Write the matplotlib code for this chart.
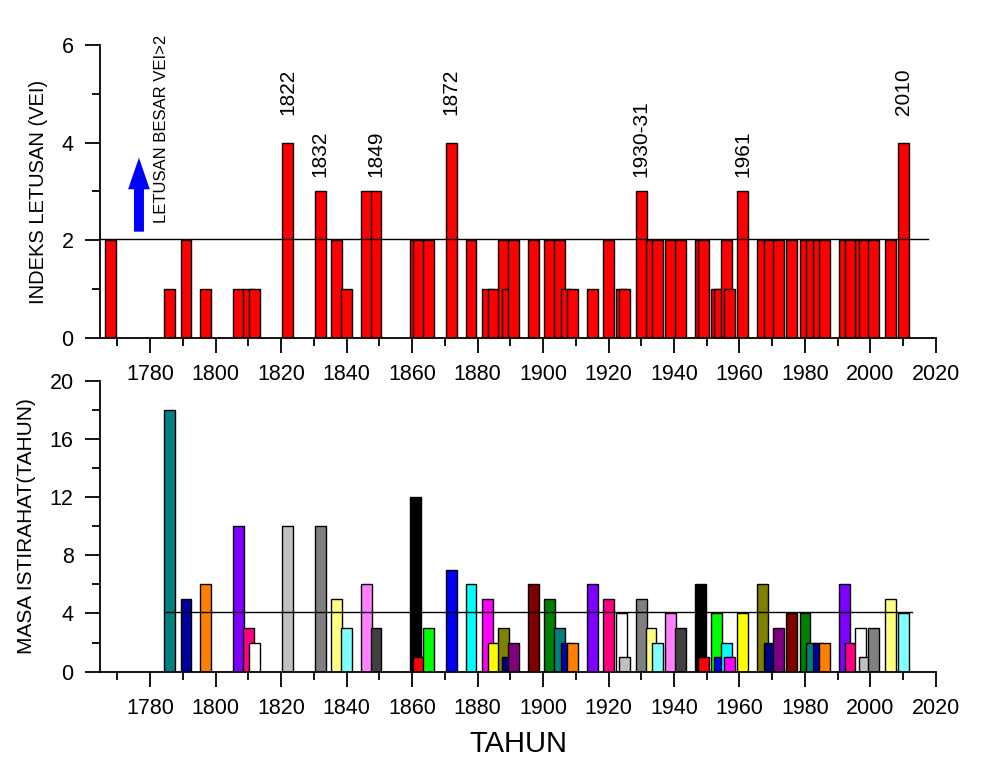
import matplotlib
matplotlib.use("Agg")
import matplotlib.pyplot as plt
from matplotlib.ticker import MultipleLocator

plt.rcParams['font.family'] = ['Liberation Sans', 'DejaVu Sans']

# eruption years and VEI
years = [1768, 1786, 1791, 1797, 1807, 1810, 1812, 1822, 1832, 1837, 1840, 1846,
         1849, 1861, 1862, 1865, 1872, 1878, 1883, 1885, 1888, 1889, 1891, 1897,
         1902, 1905, 1907, 1909, 1915, 1920, 1924, 1925, 1930, 1933, 1935, 1939,
         1942, 1948, 1949, 1953, 1954, 1956, 1957, 1961, 1967, 1969, 1972, 1976,
         1980, 1982, 1984, 1986, 1992, 1994, 1997, 1998, 2001, 2006, 2010]
vei = [2, 1, 2, 1, 1, 1, 1, 4, 3, 2, 1, 3,
       3, 2, 2, 2, 4, 2, 1, 1, 2, 1, 2, 2,
       2, 2, 1, 1, 1, 2, 1, 1, 3, 2, 2, 2,
       2, 2, 2, 1, 1, 2, 1, 3, 2, 2, 2, 2,
       2, 2, 2, 2, 2, 2, 2, 2, 2, 2, 4]

# rest period (years) for every eruption after the first one
rest_years = years[1:]
rest = [18, 5, 6, 10, 3, 2, 10, 10, 5, 3, 6, 3,
        12, 1, 3, 7, 6, 5, 2, 3, 1, 2, 6, 5,
        3, 2, 2, 6, 5, 4, 1, 5, 3, 2, 4, 3,
        6, 1, 4, 1, 2, 1, 4, 6, 2, 3, 4, 4,
        2, 2, 2, 6, 2, 3, 1, 3, 5, 4]

big_labels = ['1822', '1832', '1849', '1872', '1930-31', '1961', '2010']
big_years = [1822, 1832, 1849, 1872, 1930, 1961, 2010]
big_vei = [4, 3, 3, 4, 3, 3, 4]

vei_mean = 2.03
rest_mean = 4.1

# Origin default colour list
origin_colors = ['#000000', '#FF0000', '#00FF00', '#0000FF', '#00FFFF', '#FF00FF',
                 '#FFFF00', '#808000', '#000080', '#800080', '#800000', '#008000',
                 '#008080', '#0000A0', '#FF8000', '#8000FF', '#FF0080', '#FFFFFF',
                 '#C0C0C0', '#808080', '#FFFF80', '#80FFFF', '#FF80FF', '#404040']
rest_colors = [origin_colors[(12 + i) % 24] for i in range(len(rest))]

W = 3.3
fig = plt.figure(figsize=(9.85, 7.6), dpi=100)
ax1 = fig.add_axes([0.1015, 0.5553, 0.8487, 0.3855])
ax2 = fig.add_axes([0.1015, 0.1162, 0.8487, 0.3829])

for ax in (ax1, ax2):
    ax.spines['top'].set_visible(False)
    ax.spines['right'].set_visible(False)
    for s in ('left', 'bottom'):
        ax.spines[s].set_linewidth(1.3)
    ax.set_xlim(1764.7, 2020)
    ax.xaxis.set_major_locator(MultipleLocator(20))
    ax.xaxis.set_minor_locator(MultipleLocator(10))
    ax.tick_params(which='major', length=11, width=1.3, labelsize=15.5, pad=8)
    ax.tick_params(which='minor', length=6, width=1.3)
    ax.set_xticks(range(1780, 2021, 20))

# top panel
ax1.bar(years, vei, width=W, color='#FF0000', edgecolor='black', linewidth=1.0, zorder=2)
ax1.set_ylim(0, 6)
ax1.yaxis.set_major_locator(MultipleLocator(2))
ax1.yaxis.set_minor_locator(MultipleLocator(1))
ax1.plot([1764.7, 2017.5], [vei_mean, vei_mean], color='black', lw=1.0, zorder=3)
ax1.set_ylabel('INDEKS LETUSAN (VEI)', fontsize=14.5, labelpad=10)
for lab, x, v in zip(big_labels, big_years, big_vei):
    gap = 0.57 if v == 4 else 0.3
    ax1.text(x, v + gap, lab, rotation=90, ha='center', va='bottom', fontsize=15)
ax1.annotate('', xy=(1776.6, 3.75), xytext=(1776.6, 2.12),
             arrowprops=dict(arrowstyle='simple,head_length=1.9,head_width=1.3,tail_width=0.6',
                             mutation_scale=12, color='#0000FF', lw=0))
ax1.text(1783.6, 2.36, 'LETUSAN BESAR VEI>2', rotation=90, ha='center', va='bottom',
         fontsize=12)

# bottom panel
ax2.bar(rest_years, rest, width=W, color=rest_colors, edgecolor='black', linewidth=1.0, zorder=2)
ax2.set_ylim(0, 20)
ax2.yaxis.set_major_locator(MultipleLocator(4))
ax2.yaxis.set_minor_locator(MultipleLocator(2))
ax2.plot([1785, 2012.7], [rest_mean, rest_mean], color='black', lw=1.0, zorder=3)
ax2.set_ylabel('MASA ISTIRAHAT(TAHUN)', fontsize=15, labelpad=10)
ax2.set_xlabel('TAHUN', fontsize=21, labelpad=8)

fig.savefig('out.png', dpi=100)
